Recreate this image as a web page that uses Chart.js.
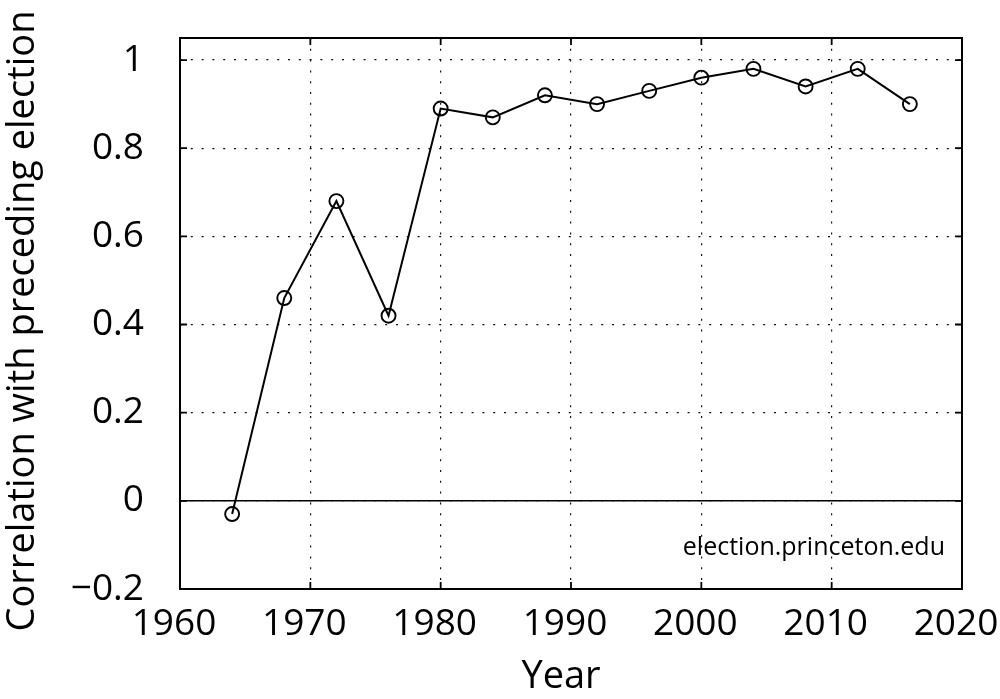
<!DOCTYPE html>
<html lang="en">
<head>
<meta charset="UTF-8">
<title>Correlation with preceding election</title>
<script src="https://cdn.jsdelivr.net/npm/chart.js"></script>
<style>
    body {
        margin: 0;
        padding: 0;
        background-color: #ffffff;
    }

    .wrap {
        position: relative;
        width: 1000px;
        height: 699px;
    }
</style>
</head>
<body>
<div class="wrap">
    <canvas id="corrChart"></canvas>
</div>

<script>
    // values
    const years = [1964, 1968, 1972, 1976, 1980, 1984, 1988, 1992, 1996, 2000, 2004, 2008, 2012, 2016];
    const correlation = [-0.03, 0.46, 0.68, 0.42, 0.89, 0.87, 0.92, 0.90, 0.93, 0.96, 0.98, 0.94, 0.98, 0.90];

    const xTicks = [1960, 1970, 1980, 1990, 2000, 2010, 2020];
    const yTicks = [-0.2, 0, 0.2, 0.4, 0.6, 0.8, 1];
    const yTickLabels = ['\u22120.2', '0', '0.2', '0.4', '0.6', '0.8', '1'];

    // solid reference line at zero
    const zeroLineX = [1960, 2020];
    const zeroLineY = [0, 0];

    const xTitle = 'Year';
    const yTitle = 'Correlation with preceding election';
    const credit = 'election.princeton.edu';

    const FONT = "'Open Sans', sans-serif";
    Chart.defaults.font.family = FONT;
    Chart.defaults.color = '#000000';

    // box round the plot, inward ticks on all four sides, titles and credit
    const matlabFrame = {
        id: 'matlabFrame',
        afterDraw(chart) {
            const { ctx, chartArea: a, scales: { x, y } } = chart;
            const tickLen = 7;
            ctx.save();
            ctx.strokeStyle = '#000000';
            ctx.lineWidth = 1.8;
            ctx.beginPath();
            x.ticks.forEach(t => {
                const px = x.getPixelForValue(t.value);
                ctx.moveTo(px, a.bottom);
                ctx.lineTo(px, a.bottom - tickLen);
                ctx.moveTo(px, a.top);
                ctx.lineTo(px, a.top + tickLen);
            });
            y.ticks.forEach(t => {
                const py = y.getPixelForValue(t.value);
                ctx.moveTo(a.left, py);
                ctx.lineTo(a.left + tickLen, py);
                ctx.moveTo(a.right, py);
                ctx.lineTo(a.right - tickLen, py);
            });
            ctx.stroke();

            ctx.lineWidth = 2;
            ctx.strokeRect(a.left, a.top, a.right - a.left, a.bottom - a.top);

            ctx.fillStyle = '#000000';
            ctx.textBaseline = 'alphabetic';

            ctx.font = '25px ' + FONT;
            ctx.textAlign = 'right';
            ctx.fillText(credit, a.right - 17, a.bottom - 34);

            ctx.font = '38px ' + FONT;
            ctx.textAlign = 'center';
            ctx.fillText(xTitle, (a.left + a.right) / 2 - 10, 688);

            ctx.translate(34, 321);
            ctx.rotate(-Math.PI / 2);
            ctx.fillText(yTitle, 0, 0);
            ctx.restore();
        }
    };

    const ctx = document.getElementById('corrChart').getContext('2d');
    new Chart(ctx, {
        type: 'line',
        data: {
            datasets: [
                {
                    label: 'zero',
                    data: zeroLineX.map((v, i) => ({ x: v, y: zeroLineY[i] })),
                    borderColor: '#000000',
                    borderWidth: 1.5,
                    pointRadius: 0,
                    order: 2
                },
                {
                    label: 'Correlation',
                    data: years.map((yr, i) => ({ x: yr, y: correlation[i] })),
                    borderColor: '#000000',
                    borderWidth: 2,
                    tension: 0,
                    pointRadius: 7,
                    pointBorderWidth: 1.9,
                    pointBorderColor: '#000000',
                    pointBackgroundColor: 'rgba(0,0,0,0)',
                    clip: false,
                    order: 1
                }
            ]
        },
        options: {
            responsive: true,
            maintainAspectRatio: false,
            animation: false,
            layout: {
                padding: { left: 0, top: 38, right: 38, bottom: 0 }
            },
            plugins: {
                legend: { display: false },
                tooltip: { enabled: false }
            },
            scales: {
                x: {
                    type: 'linear',
                    min: 1960,
                    max: 2020,
                    afterBuildTicks: scale => {
                        scale.ticks = xTicks.map(v => ({ value: v }));
                    },
                    afterFit: scale => {
                        scale.height = 110;
                        scale.paddingLeft = 0;
                        scale.paddingRight = 0;
                    },
                    ticks: {
                        font: { size: 37 },
                        padding: 13,
                        labelOffset: -6,
                        maxRotation: 0,
                        callback: v => String(v)
                    },
                    grid: {
                        color: '#111111',
                        lineWidth: 1.2,
                        drawTicks: false
                    },
                    border: { display: false, dash: [2, 8.8] }
                },
                y: {
                    type: 'linear',
                    min: -0.2,
                    max: 1.05,
                    afterBuildTicks: scale => {
                        scale.ticks = yTicks.map(v => ({ value: v }));
                    },
                    afterFit: scale => {
                        scale.width = 180;
                        scale.paddingTop = 0;
                        scale.paddingBottom = 0;
                    },
                    ticks: {
                        font: { size: 37 },
                        padding: 36,
                        callback: (v, i) => yTickLabels[i]
                    },
                    grid: {
                        color: '#111111',
                        lineWidth: 1.2,
                        drawTicks: false
                    },
                    border: { display: false, dash: [2, 8.8] }
                }
            }
        },
        plugins: [matlabFrame]
    });
</script>
</body>
</html>
